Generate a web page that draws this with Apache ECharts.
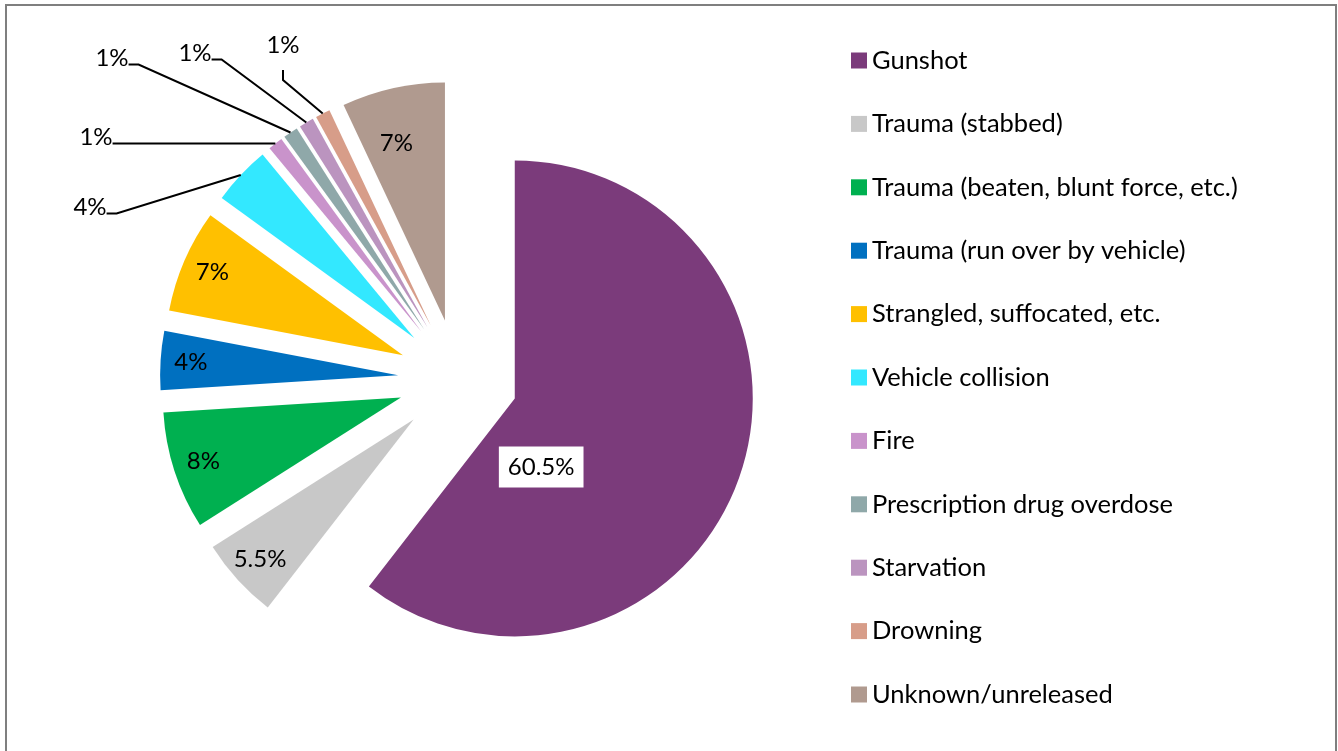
<!DOCTYPE html>
<html>
<head>
<meta charset="utf-8">
<script src="https://cdn.jsdelivr.net/npm/echarts@6/dist/echarts.min.js"></script>
<style>
  html, body { margin: 0; padding: 0; background: #fff; }
  #chart { width: 1338px; height: 751px; }
</style>
</head>
<body>
<div id="chart"></div>
<script>
// causes of death, share in percent
const categories = [
    'Gunshot',
    'Trauma (stabbed)',
    'Trauma (beaten, blunt force, etc.)',
    'Trauma (run over by vehicle)',
    'Strangled, suffocated, etc.',
    'Vehicle collision',
    'Fire',
    'Prescription drug overdose',
    'Starvation',
    'Drowning',
    'Unknown/unreleased'
];
const values = [60.5, 5.5, 8, 4, 7, 4, 1, 1, 1, 1, 7];
const valueLabels = ['60.5%', '5.5%', '8%', '4%', '7%', '4%', '1%', '1%', '1%', '1%', '7%'];
const colors = ['#7b3b7b', '#c8c8c8', '#00b050', '#0070c0', '#ffc000', '#33e8ff',
    '#c993cb', '#8fa8a9', '#bb94bf', '#d79d89', '#b09a8f'];

const FONT = 'Lato';
const R = 238;
const EXPLODE = 60;
// where the leader line meets each small-slice label (x = label centre)
const outsideLabelAt = {5: [93, 215], 6: [99, 145], 7: [115, 66], 8: [198, 61], 9: [286, 53]};

const total = values.reduce((a, b) => a + b, 0);
let acc = 0;
const midAngles = values.map(v => {
    const m = (acc + v / 2) / total * 2 * Math.PI;
    acc += v;
    return m;
});

const chart = echarts.init(document.getElementById('chart'));

// slices, all pulled out of the pie
const sliceData = values.map((v, i) => {
    const item = {
        name: categories[i],
        value: v,
        selected: true,
        itemStyle: {color: colors[i]},
        label: {formatter: valueLabels[i], position: 'inside', show: !outsideLabelAt[i]},
        labelLine: {show: false}
    };
    if (i === 0) {
        item.label.backgroundColor = '#fff';
        item.label.padding = [9, 9, 8, 9];
    }
    return item;
});

// invisible helper ring just for the leader-line labels of the thin slices
const guideData = values.map((v, i) => ({
    name: 'guide' + i,
    value: v,
    label: {
        show: !!outsideLabelAt[i],
        formatter: '{t|' + valueLabels[i] + '}\n{s| }',
        position: 'outside',
        padding: [0, 6, 0, 0]
    },
    labelLine: {show: !!outsideLabelAt[i]}
}));

const labelText = {fontFamily: FONT, fontSize: 24, color: '#000'};

const option = {
    animation: false,
    backgroundColor: '#fff',
    graphic: [{
        type: 'rect',
        shape: {x: 6, y: 5, width: 1330, height: 760},
        style: {fill: 'none', stroke: '#7f7f7f', lineWidth: 2},
        silent: true
    }],
    legend: {
        orient: 'vertical',
        left: 846,
        top: 42.5,
        icon: 'rect',
        itemWidth: 16,
        itemHeight: 16,
        itemGap: 37.4,
        selectedMode: false,
        data: categories,
        textStyle: {
            fontFamily: FONT,
            fontSize: 25.5,
            color: '#000'
        }
    },
    series: [{
        type: 'pie',
        center: [458, 379],
        radius: R,
        startAngle: 90,
        clockwise: true,
        selectedMode: 'multiple',
        selectedOffset: EXPLODE,
        avoidLabelOverlap: false,
        silent: true,
        itemStyle: {borderWidth: 0, borderRadius: 0},
        select: {itemStyle: {borderWidth: 0}},
        label: labelText,
        labelLayout: function (p) {
            const i = p.dataIndex;
            if (i === 0) {
                return {dx: -89, dy: 29};
            }
            // labels sit near the outer end of each slice
            if (i === values.length - 1) {
                return {dx: -9 + 0.25 * R * Math.sin(midAngles[i]), dy: -0.25 * R * Math.cos(midAngles[i])};
            }
            const shift = 0.36 * R;
            return {dx: shift * Math.sin(midAngles[i]), dy: -shift * Math.cos(midAngles[i])};
        },
        data: sliceData
    }, {
        type: 'pie',
        center: [458, 379],
        radius: R + EXPLODE,
        startAngle: 90,
        clockwise: true,
        avoidLabelOverlap: false,
        silent: true,
        z: 3,
        itemStyle: {color: 'rgba(0,0,0,0)', borderWidth: 0},
        label: {
            fontFamily: FONT,
            color: '#000',
            rich: {
                t: {fontFamily: FONT, fontSize: 24, lineHeight: 24, color: '#000'},
                s: {fontFamily: FONT, fontSize: 10, lineHeight: 16}
            }
        },
        labelLine: {
            length: 10,
            length2: 10,
            smooth: false,
            lineStyle: {color: '#000', width: 2}
        },
        labelLayout: function (p) {
            const pos = outsideLabelAt[p.dataIndex];
            if (!pos) {
                return {};
            }
            return {x: pos[0], y: pos[1], align: 'center', verticalAlign: 'middle'};
        },
        data: guideData
    }]
};

chart.setOption(option);
</script>
</body>
</html>
